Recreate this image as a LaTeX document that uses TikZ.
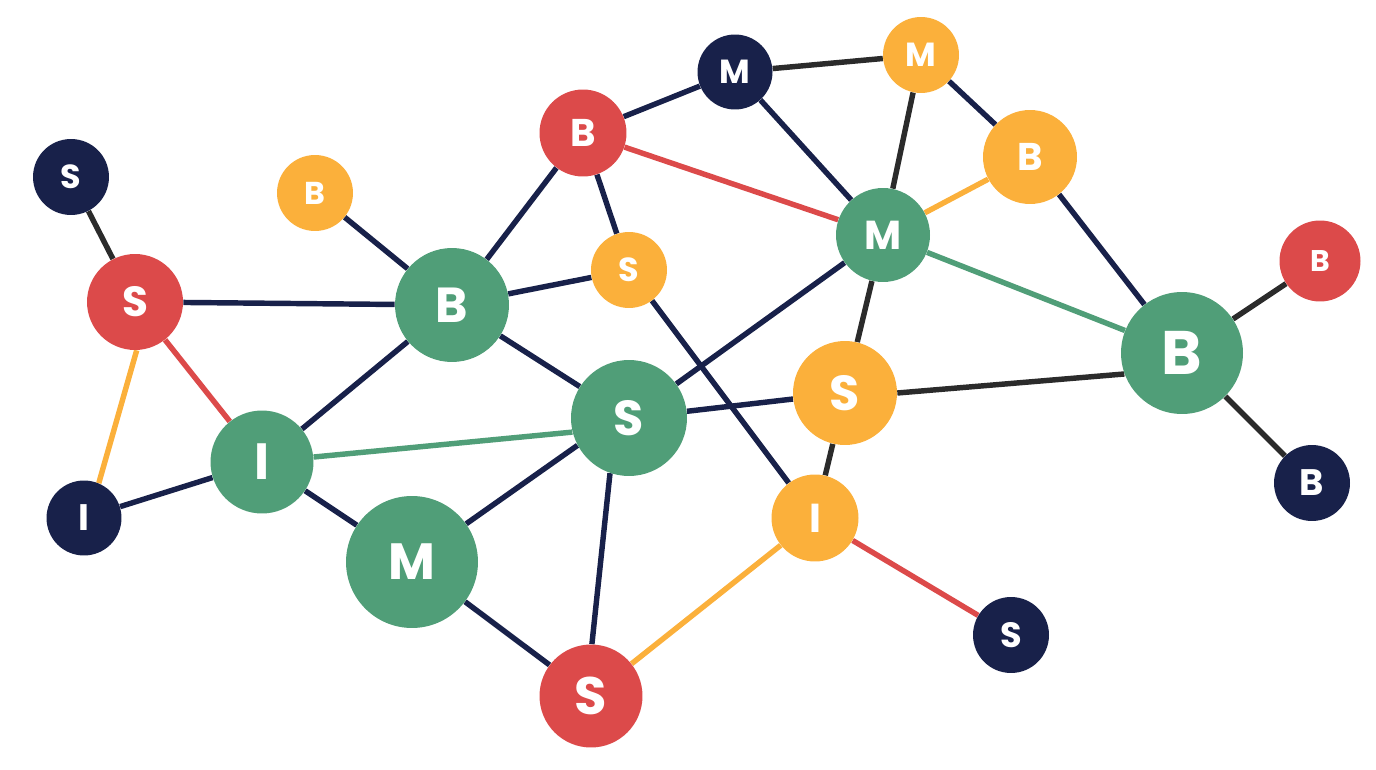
\documentclass[tikz,border=0pt]{standalone}
\usepackage{fontspec}
\setmainfont{Poppins}
\usepackage{xcolor}
\usepackage{tikz}
\usetikzlibrary{backgrounds}
\definecolor{navy}{HTML}{18214A}
\definecolor{redc}{HTML}{DC4A4A}
\definecolor{amber}{HTML}{FBB03B}
\definecolor{sage}{HTML}{509E78}
\definecolor{coal}{HTML}{2B2B2B}

\begin{document}
\begin{tikzpicture}[x=0.02cm,y=-0.02cm,dot/.style={circle,inner sep=0pt,text=white,fill=#1},pt/.style={font=\bfseries\fontsize{#1}{#1}\selectfont},link/.style={line width=3.1pt,draw=#1}]
\useasboundingbox (0,0) rectangle (1376,770);
\node[dot=navy,minimum size=1.52cm,pt=19] (s1) at (71,177) {S};
\node[dot=amber,minimum size=1.52cm,pt=18] (b1) at (315,193) {B};
\node[dot=redc,minimum size=1.92cm,pt=24] (s2) at (135,302) {S};
\node[dot=navy,minimum size=1.5cm,pt=21] (i1) at (84,518) {I};
\node[dot=sage,minimum size=2.06cm,pt=29] (i2) at (262,462) {I};
\node[dot=sage,minimum size=2.28cm,pt=28] (b2) at (452,305) {B};
\node[dot=sage,minimum size=2.64cm,pt=29] (m1) at (412,562) {M};
\node[dot=redc,minimum size=2.06cm,pt=30] (s3) at (591,696) {S};
\node[dot=sage,minimum size=2.32cm,pt=28] (s4) at (629,418) {S};
\node[dot=redc,minimum size=1.74cm,pt=22] (b3) at (583,133) {B};
\node[dot=amber,minimum size=1.52cm,pt=19] (s5) at (629,270) {S};
\node[dot=navy,minimum size=1.5cm,pt=19] (m2) at (735,72) {M};
\node[dot=amber,minimum size=1.52cm,pt=19] (m3) at (921,55) {M};
\node[dot=amber,minimum size=1.88cm,pt=22] (b4) at (1030,157) {B};
\node[dot=sage,minimum size=1.88cm,pt=23] (m4) at (883,235) {M};
\node[dot=amber,minimum size=2.08cm,pt=28] (s6) at (845,393) {S};
\node[dot=amber,minimum size=1.74cm,pt=23] (i3) at (815,518) {I};
\node[dot=navy,minimum size=1.52cm,pt=20] (s7) at (1011,635) {S};
\node[dot=sage,minimum size=2.44cm,pt=35] (b5) at (1182,353) {B};
\node[dot=redc,minimum size=1.62cm,pt=17] (b6) at (1320,261) {B};
\node[dot=navy,minimum size=1.52cm,pt=21] (b7) at (1312,483) {B};
\begin{scope}[on background layer]
\draw[link=coal] (s1) -- (s2);\draw[link=coal] (m2) -- (m3);\draw[link=coal] (m3) -- (m4);\draw[link=coal] (m4) -- (s6);
\draw[link=coal] (s6.0) -- (b5.200);\draw[link=coal] (s6) -- (i3);\draw[link=coal] (b5) -- (b6);\draw[link=coal] (b5) -- (b7);
\draw[link=navy] (b1) -- (b2);\draw[link=navy] (s2) -- (b2);\draw[link=navy] (i1) -- (i2);\draw[link=navy] (i2) -- (b2);
\draw[link=navy] (i2) -- (m1);\draw[link=navy] (m1) -- (s4.208);\draw[link=navy] (m1) -- (s3);\draw[link=navy] (s3.89) -- (s4.251);
\draw[link=navy] (b2) -- (b3);\draw[link=navy] (b2) -- (s5);\draw[link=navy] (b2) -- (s4);\draw[link=navy] (b3) -- (s5);
\draw[link=navy] (b3) -- (m2);\draw[link=navy] (m2) -- (m4);\draw[link=navy] (m3) -- (b4);\draw[link=navy] (b4) -- (b5);
\draw[link=navy] (m4) -- (s4);\draw[link=navy] (s5) -- (i3);\draw[link=navy] (s4) -- (s6);
\draw[link=redc] (s2) -- (i2);\draw[link=redc] (b3) -- (m4);\draw[link=redc] (i3) -- (s7);
\draw[link=amber] (s2.-88) -- (i1.67);\draw[link=amber] (s3) -- (i3);\draw[link=amber] (b4) -- (m4);
\draw[link=sage] (i2) -- (s4.194);\draw[link=sage] (m4) -- (b5);
\end{scope}
\end{tikzpicture}
\end{document}
